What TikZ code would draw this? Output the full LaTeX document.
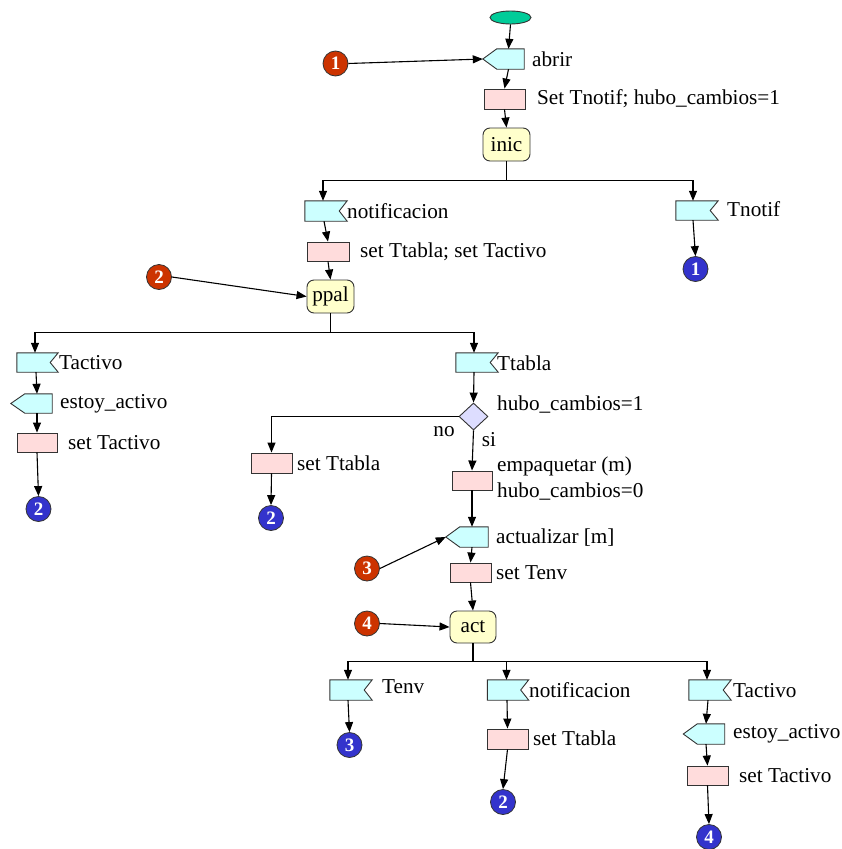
\documentclass[tikz,border=0pt]{standalone}
\usepackage{fontspec}
\setmainfont{Liberation Serif}
\usetikzlibrary{arrows.meta,shapes.geometric,calc}
\definecolor{cyanf}{HTML}{CCFFFF}
\definecolor{pinkf}{HTML}{FFDCDC}
\definecolor{yelf}{HTML}{FFFFCC}
\definecolor{lavf}{HTML}{DDDDFF}
\definecolor{greenf}{HTML}{00CC99}
\definecolor{redc}{HTML}{CC3300}
\definecolor{bluec}{HTML}{3333CC}
\definecolor{edge}{HTML}{333333}
\tikzset{
  every node/.style={font=\fontsize{21.2}{24}\selectfont},
  taskbox/.style={rectangle, draw=edge, line width=0.9pt, fill=pinkf, minimum width=41pt, minimum height=20pt, inner sep=0pt},
  statebox/.style={rectangle, rounded corners=7pt, draw=edge, line width=0.9pt, fill=yelf, minimum width=47pt, minimum height=33pt, inner sep=0pt},
  sigframe/.style={rectangle, minimum width=41pt, minimum height=20pt, inner sep=0pt},
  sigpath/.style={draw=edge, line width=0.9pt, fill=cyanf},
  decbox/.style={diamond, draw=edge, line width=0.9pt, fill=lavf, minimum width=29pt, minimum height=27pt, inner sep=0pt},
  jumpin/.style={circle, draw=black!80, line width=0.8pt, fill=redc, minimum size=25pt, inner sep=0pt, text=white, font=\fontsize{19}{20}\selectfont\bfseries},
  jumpout/.style={jumpin, fill=bluec},
  lbl/.style={anchor=west, inner sep=0pt},
  lblc/.style={inner sep=0pt},
  arr/.style={-{Triangle[length=10pt,width=8pt]}, line width=1.1pt},
  ln/.style={line width=1.1pt},
}
\begin{document}
\begin{tikzpicture}[x=1pt,y=-1pt]
\useasboundingbox (0,0) rectangle (842,849);

% ---- top part: start, abrir, inic
\node[ellipse, draw=edge, line width=0.9pt, fill=greenf, minimum width=41pt, minimum height=13pt, inner sep=0pt] (start) at (510.5,17.5) {};
\node[sigframe] (abrir) at (503.5,59) {};
\node[taskbox] (setA) at (504.5,99) {};
\node[statebox] (inic) at (506.5,144.5) {inic};
\node[jumpin] (r1) at (335.5,63.5) {1};

% ---- inic branches
\node[sigframe, minimum width=42pt] (notifA) at (326,211) {};
\node[sigframe, minimum width=42pt, minimum height=19pt] (tnotif) at (697,210.5) {};
\node[taskbox, minimum width=42pt, minimum height=19pt] (setB) at (328,251.5) {};
\node[statebox] (ppal) at (330.5,296.5) {ppal};
\node[jumpin] (r2) at (159,277) {2};
\node[jumpout] (b1) at (695.5,269) {1};

% ---- ppal, left branch
\node[sigframe, minimum height=19pt] (tactA) at (37.5,362.5) {};
\node[sigframe, minimum height=19pt] (estoyA) at (31.5,403.5) {};
\node[taskbox, minimum width=40pt, minimum height=19pt] (setC) at (37,442.5) {};
\node[jumpout] (b2a) at (38.5,509) {2};

% ---- ppal, right branch
\node[sigframe, minimum width=42pt, minimum height=19pt] (ttabla) at (477,362.5) {};
\node[decbox] (dec) at (473.5,416.5) {};
\node[taskbox] (setD) at (271.5,463) {};
\node[jumpout] (b2b) at (271,518) {2};
\node[taskbox, minimum width=40pt, minimum height=19pt] (emp) at (472,480.5) {};
\node[sigframe, minimum width=42pt] (actz) at (467,537) {};
\node[taskbox, minimum height=19pt] (setE) at (470.5,572.5) {};
\node[statebox, minimum width=46pt, minimum height=32pt] (act) at (473,627) {act};
\node[jumpin] (r3) at (367,568.5) {3};
\node[jumpin] (r4) at (367,623.5) {4};

% ---- act branches
\node[sigframe, minimum width=42pt] (tenv) at (351,690) {};
\node[jumpout] (b3) at (349.5,745) {3};
\node[sigframe] (notifB) at (508,690) {};
\node[taskbox] (setF) at (507.5,739) {};
\node[jumpout] (b2c) at (503,802) {2};
\node[sigframe, minimum width=42pt] (tactB) at (710,690) {};
\node[sigframe] (estoyB) at (704,734) {};
\node[taskbox, minimum height=19pt] (setG) at (707.5,775.5) {};
\node[jumpout] (b4) at (709,837) {4};

% ---- input signals (point on the left)
\foreach \n in {abrir,estoyA,actz,estoyB}
  \path[sigpath] (\n.north east) -- (\n.south east) -- ($(\n.south west)+(14,0)$)
    -- (\n.west) -- ($(\n.north west)+(14,0)$) -- cycle;
% ---- output signals (notch on the right)
\foreach \n in {notifA,tnotif,tactA,ttabla,tenv,notifB,tactB}
  \path[sigpath] (\n.north west) -- (\n.north east) -- ($(\n.east)+(-8,0)$)
    -- (\n.south east) -- (\n.south west) -- cycle;

% ---- labels
\node[lbl] (tabrir) at (532,59) {abrir};
\node[lbl] (tsetA) at (537,99) {Set Tnotif; hubo\_cambios=1};
\node[lbl] (tnotifA) at (347,211) {notificacion};
\node[lbl] (ttnotif) at (727,209) {Tnotif};
\node[lbl] (tsetB) at (360,252) {set Ttabla; set Tactivo};
\node[lbl] (ttactA) at (59,363) {Tactivo};
\node[lbl] (testoyA) at (60,404) {estoy\_activo};
\node[lbl] (tsetC) at (68,443) {set Tactivo};
\node[lbl] (tttabla) at (497,363) {Ttabla};
\node[lbl] (tdec) at (497,405) {hubo\_cambios=1};
\node[lblc] (tno) at (444,432) {no};
\node[lblc] (tsi) at (489,440) {si};
\node[lbl] (tsetD) at (297,463) {set Ttabla};
\node[lbl] (temp1) at (497,466) {empaquetar (m)};
\node[lbl] (temp2) at (497,492) {hubo\_cambios=0};
\node[lbl] (tactz) at (496,538) {actualizar [m]};
\node[lbl] (tsetE) at (496,573) {set Tenv};
\node[lbl] (ttenv) at (382,687) {Tenv};
\node[lbl] (tnotifB) at (529,690) {notificacion};
\node[lbl] (tsetF) at (533,738) {set Ttabla};
\node[lbl] (ttactB) at (733,691) {Tactivo};
\node[lbl] (testoyB) at (733,734) {estoy\_activo};
\node[lbl] (tsetG) at (739,776) {set Tactivo};

% ---- connectors, top part
\draw[arr] (start.south) -- ([xshift=5pt]abrir.north);
\draw[arr] (r1.east) -- (abrir.west);
\draw[arr] ([xshift=5pt]abrir.south) -- (setA.north);
\draw[arr] (setA.south) -- (inic.north);
\draw[ln] (inic.south) -- ++(0,19) coordinate (j1);
\draw[arr] (j1) -| ([xshift=-3pt]notifA.north);
\draw[arr] (j1) -| ([xshift=-4pt]tnotif.north);
\draw[arr] ([xshift=-4pt]tnotif.south) -- (b1.north);
\draw[arr] ([xshift=-2pt]notifA.south) -- (setB.north);
\draw[arr] (setB.south) -- (ppal.north);
\draw[arr] (r2.east) -- (ppal.west);

% ---- connectors, ppal
\draw[ln] (ppal.south) -- ++(0,19) coordinate (j2);
\draw[arr] (j2) -| ([xshift=-2.5pt]tactA.north);
\draw[arr] (j2) -| ([xshift=-3pt]ttabla.north);
\draw[arr] ([xshift=-1.5pt]tactA.south) -- ([xshift=5.5pt]estoyA.north);
\draw[arr] ([xshift=5.5pt]estoyA.south) -- (setC.north);
\draw[arr] (setC.south) -- (b2a.north);
\draw[arr] ([xshift=-3pt]ttabla.south) -- (dec.north);
\draw[arr] (dec.west) -| (setD.north);
\draw[arr] (setD.south) -- (b2b.north);
\draw[arr] (dec.south) -- (emp.north);
\draw[arr] (emp.south) -- ([xshift=5pt]actz.north);
\draw[arr] (r3.east) -- (actz.west);
\draw[arr] ([xshift=5pt]actz.south) -- (setE.north);
\draw[arr] (setE.south) -- (act.north);
\draw[arr] (r4.east) -- (act.west);

% ---- connectors, act
\draw[ln] (act.south) -- ++(0,18) coordinate (j3);
\draw[arr] (j3) -| ([xshift=-3pt]tenv.north);
\draw[arr] (j3) -| ([xshift=-1.5pt]notifB.north);
\draw[arr] (j3) -| ([xshift=-3pt]tactB.north);
\draw[arr] ([xshift=-3pt]tenv.south) -- (b3.north);
\draw[arr] ([xshift=-1pt]notifB.south) -- (setF.north);
\draw[arr] (setF.south) -- (b2c.north);
\draw[arr] ([xshift=-2pt]tactB.south) -- ([xshift=2pt]estoyB.north);
\draw[arr] ([xshift=2pt]estoyB.south) -- (setG.north);
\draw[arr] (setG.south) -- (b4.north);
\end{tikzpicture}
\end{document}
